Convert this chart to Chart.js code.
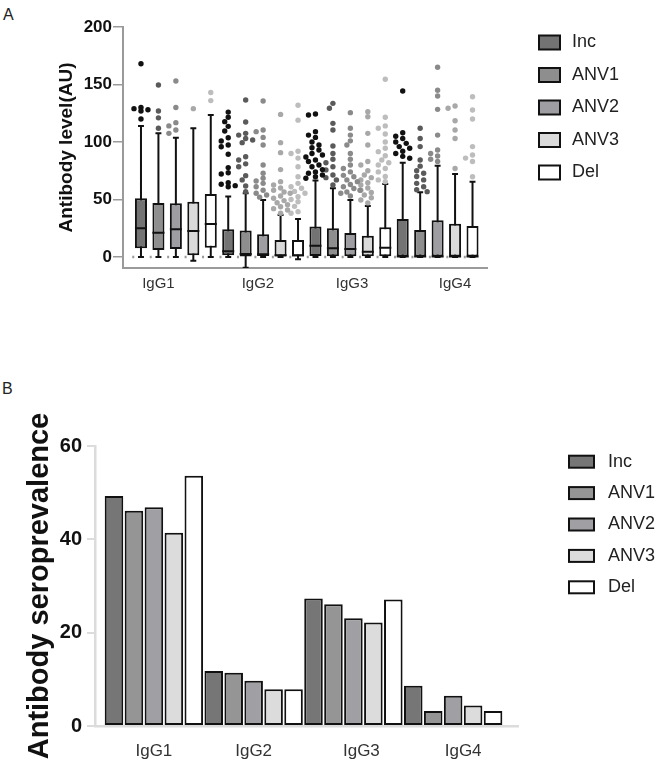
<!DOCTYPE html>
<html><head><meta charset="utf-8">
<script src="https://cdn.jsdelivr.net/npm/chart.js@4"></script>
<style>
html,body{margin:0;padding:0;background:#fff;}
#wrap{position:relative;width:657px;height:763px;overflow:hidden;}
.plabel{position:absolute;font-family:'Liberation Sans',Arial,sans-serif;font-size:16px;color:#222;line-height:16px;}
#ca{position:absolute;left:0;top:0;}
#cb{position:absolute;left:0;top:330px;}
</style></head><body>
<div id="wrap">
<div class="plabel" style="left:3px;top:7px">A</div>
<div class="plabel" style="left:2px;top:381px">B</div>
<canvas id="ca" width="657" height="330"></canvas>
<canvas id="cb" width="657" height="433"></canvas>
</div>
<script>
// ---------- data ----------
const SERIES = ['Inc', 'ANV1', 'ANV2', 'ANV3', 'Del'];
const GROUPS = ['IgG1', 'IgG2', 'IgG3', 'IgG4'];
const A_Y_TICKS = [0, 50, 100, 150, 200];
const B_Y_TICKS = [0, 20, 40, 60];

// Panel A box statistics (rows = series, columns = IgG1..IgG4)
const LOWER  = [[0, 0, 0, 0], [0, -9.3, 0, 0], [0, 0, 0, 0], [-3.2, 0, 0, 0], [0, -2, 0, 0]];
const Q1     = [[7.5, 1.5, 0.8, 0.5], [6, 0.3, 0.6, 0.5], [7, 0.8, 0.6, 0.5], [1.5, 0.4, 0.6, 0.5], [8, 0.4, 0.6, 0.5]];
const MEDIAN = [[25, 5, 9.8, 0.5], [21, 2.6, 7.5, 0.5], [24, 2.3, 7, 0.5], [22.6, 1.5, 4.6, 0.5], [28.7, 1.5, 8.1, 0.5]];
const Q3     = [[51, 24, 26.6, 33], [47, 23, 25, 23.5], [46.7, 19.7, 20.8, 32], [48, 14.8, 18.4, 28.8], [54.8, 14.8, 25.8, 27]];
const UPPER  = [[114, 52.5, 66.4, 82], [107.5, 55.4, 59.7, 56.3], [103.7, 49.6, 49.6, 79.4], [112, 36.5, 44.3, 72.2], [123.5, 33, 63.5, 65.5]];

// Panel A outliers per series (one list per IgG subclass)
const OUT_INC = [
  [168, 130, 129, 128, 127, 120],
  [126, 121.5, 117.7, 113.6, 109.6, 103.7, 100.9, 97.4, 95.9, 89.3, 77.7, 73.3, 72.2, 64.6, 63.2, 62, 61],
  [124.3, 123.5, 109, 106, 104, 100, 97.4, 95, 93, 90, 88.7, 87, 84.3, 83, 80, 78.5, 76, 74, 72.8, 71.3, 69.8, 68.5],
  [144.3, 108, 105, 103, 100, 98.8, 96, 94.5, 92, 90, 87.5, 85.8]
];
const OUT_ANV1 = [
  [149.5, 127, 121, 112],
  [136.5, 117.4, 107.5, 106, 103, 101.7, 99.4, 87.2, 84.3, 81, 78.5, 70.7, 67, 61.7, 56.8],
  [133.6, 129.3, 116.2, 110.4, 96.5, 90, 85, 82, 78.5, 75.7, 71.3, 69, 67, 62.6],
  [112, 103, 96, 84.3, 79, 75, 72.8, 70, 67, 64, 61, 58.5, 56.8]
];
const OUT_ANV2 = [
  [153, 130, 116.8, 114, 110.4, 107.5],
  [135.7, 110.4, 109, 104, 97.4, 80, 72.8, 68.4, 66, 64, 61, 58, 55.4, 53.9, 52],
  [125.5, 112, 106, 101, 97.4, 90, 85, 80, 77, 74, 71, 69.8, 67, 65.5, 63, 61, 59.5, 58, 56.5, 55.4, 53],
  [165, 145, 140, 128.4, 106, 93, 90, 87.8, 85, 83]
];
const OUT_ANV3 = [
  [129],
  [124, 99.4, 90.7, 76, 65.5, 62.6, 60, 58, 56.5, 55.4, 53, 51, 49, 47.2, 45.5, 43.7, 42, 40.9, 38],
  [126.4, 122, 107.5, 97.4, 83, 80, 75, 71.3, 69, 67, 64.5, 62.6, 60, 58, 56, 53.9, 51.5, 49.6, 47],
  [131.3, 129.3, 118.5, 110.4, 103, 77]
];
const OUT_DEL = [
  [143, 136],
  [132, 119, 92, 90, 86, 78.5, 69.8, 64, 61, 59.7, 57, 55.4, 52.4, 50, 48, 44, 39.4, 38],
  [154.5, 121.5, 114, 112, 107, 100, 94.5, 91.6, 88, 84.3, 82, 80, 77, 74, 70, 67, 65.5],
  [139.4, 127.8, 120, 96, 88.7, 86, 83, 69.8]
];
const OUTLIERS = [OUT_INC, OUT_ANV1, OUT_ANV2, OUT_ANV3, OUT_DEL];

// Panel B seroprevalence (%)
const PREV_INC  = [49.3, 11.8, 27.3, 8.6];
const PREV_ANV1 = [46.1, 11.4, 26.1, 3.2];
const PREV_ANV2 = [46.9, 9.7, 23.1, 6.5];
const PREV_ANV3 = [41.4, 7.9, 22.2, 4.4];
const PREV_DEL  = [53.6, 7.9, 27.1, 3.2];
const PREV = [PREV_INC, PREV_ANV1, PREV_ANV2, PREV_ANV3, PREV_DEL];

// ---------- styling ----------
const FONT = "'Liberation Sans', Arial, Helvetica, sans-serif";
const FILL_A = ['#737373', '#8e8e8e', '#9d9da2', '#dadada', '#ffffff'];
const FILL_B = ['#767676', '#959595', '#a0a0a4', '#dcdcdc', '#ffffff'];
const DOT = ['#111111', '#5a5a5a', '#8a8a8a', '#a8a8a8', '#bdbdbd'];
const INK = '#111111';
const N = SERIES.length;
const pos = (g, s) => g * N + s;

// ---------- custom side legend ----------
const sideLegend = {
  id: 'sideLegend',
  afterDraw(chart, args, o) {
    const ctx = chart.ctx;
    ctx.save();
    ctx.font = o.fontSize + 'px ' + FONT;
    ctx.textBaseline = 'middle';
    ctx.textAlign = 'left';
    SERIES.forEach((name, i) => {
      const cy = o.y + i * o.dy;
      ctx.fillStyle = o.fill[i];
      ctx.fillRect(o.x, cy - o.h / 2, o.w, o.h);
      ctx.lineWidth = 2;
      ctx.strokeStyle = INK;
      ctx.strokeRect(o.x, cy - o.h / 2, o.w, o.h);
      ctx.fillStyle = '#222';
      ctx.fillText(name, o.tx, cy);
    });
    ctx.restore();
  }
};

// ---------- Panel A ----------
const PX_PER_X_A = 17.45, PX_PER_Y_A = 1.15;
function swarm(values, x0) {
  const placed = [];
  const offs = [0, -0.2, 0.2, -0.4, 0.4, -0.55, 0.55];
  return values.slice().sort((a, b) => b - a).map(v => {
    let off = offs.find(o => placed.every(p =>
      Math.hypot((p.x - (x0 + o)) * PX_PER_X_A, (p.y - v) * PX_PER_Y_A) >= 5));
    if (off === undefined) off = 0;
    const pt = {x: x0 + off, y: v};
    placed.push(pt);
    return pt;
  });
}

const CAP = 0.17, MED = 0.345;
const whiskerData = [], capData = [], medData = [];
SERIES.forEach((n, s) => GROUPS.forEach((g, gi) => {
  const x = pos(gi, s);
  whiskerData.push({x, y: LOWER[s][gi]}, {x, y: UPPER[s][gi]}, {x, y: null});
  [LOWER[s][gi], UPPER[s][gi]].forEach(v => capData.push({x: x - CAP, y: v}, {x: x + CAP, y: v}, {x, y: null}));
  medData.push({x: x - MED, y: MEDIAN[s][gi]}, {x: x + MED, y: MEDIAN[s][gi]}, {x, y: null});
}));

const dsA = [];
dsA.push({
  type: 'line', label: 'zero', order: 6,
  data: [{x: pos(0, 0) - 0.5, y: 0}, {x: pos(GROUPS.length - 1, N - 1) + 0.5, y: 0}],
  borderColor: '#9a9a9a', borderWidth: 2.5, borderDash: [2, PX_PER_X_A - 2],
  pointRadius: 0, fill: false
});
dsA.push({
  type: 'line', label: 'whiskers', order: 5, data: whiskerData,
  borderColor: INK, borderWidth: 2, pointRadius: 0, fill: false, spanGaps: false
});
dsA.push({
  type: 'line', label: 'caps', order: 5, data: capData,
  borderColor: INK, borderWidth: 2, pointRadius: 0, fill: false, spanGaps: false
});
SERIES.forEach((name, s) => dsA.push({
  type: 'bar', label: name, order: 3,
  data: GROUPS.map((g, gi) => ({x: pos(gi, s), y: [Q1[s][gi], Q3[s][gi]]})),
  backgroundColor: FILL_A[s], borderColor: INK, borderWidth: 2, borderSkipped: false,
  grouped: false, barPercentage: 0.69, categoryPercentage: 1
}));
dsA.push({
  type: 'line', label: 'medians', order: 2, data: medData,
  borderColor: INK, borderWidth: 2, pointRadius: 0, fill: false, spanGaps: false
});
SERIES.forEach((name, s) => dsA.push({
  type: 'scatter', label: name + ' outliers', order: 1,
  data: GROUPS.flatMap((g, gi) => swarm(OUTLIERS[s][gi], pos(gi, s))),
  pointRadius: 2.7, pointBackgroundColor: DOT[s], pointBorderWidth: 0, showLine: false
}));

const A_LABEL_POS = [1, 6.7, 12.1, 18];

new Chart(document.getElementById('ca'), {
  type: 'bar',
  data: {datasets: dsA},
  plugins: [sideLegend],
  options: {
    responsive: false, animation: false, devicePixelRatio: 1, events: [],
    layout: {padding: {top: 27, right: 170, bottom: 0, left: 0}},
    plugins: {
      legend: {display: false}, tooltip: {enabled: false},
      sideLegend: {x: 539, w: 21, h: 14, tx: 572, y: 42.5, dy: 32.5, fontSize: 18, fill: FILL_A}
    },
    scales: {
      x: {
        type: 'linear', min: -1.03, max: 19.83, offset: false,
        grid: {display: false, drawTicks: false},
        border: {display: true, color: '#9a9a9a', width: 2},
        afterBuildTicks: sc => { sc.ticks = A_LABEL_POS.map(v => ({value: v})); },
        ticks: {callback: (v, i) => GROUPS[i], font: {family: FONT, size: 15}, color: '#333',
                padding: 7, maxRotation: 0, autoSkip: false},
        afterFit: sc => { sc.height = 62; }
      },
      y: {
        min: -9.6, max: 200,
        afterBuildTicks: sc => { sc.ticks = A_Y_TICKS.map(v => ({value: v})); },
        grid: {drawOnChartArea: false, drawTicks: true, tickLength: 10, color: '#9a9a9a', lineWidth: 1.5},
        border: {display: true, color: '#9a9a9a', width: 2},
        ticks: {font: {family: FONT, size: 17, weight: 'bold'}, color: INK, padding: 1},
        title: {display: true, text: 'Antibody level(AU)', color: INK,
                font: {family: FONT, size: 19, weight: 'bold'}, padding: {top: 55, bottom: 0}},
        afterFit: sc => { sc.width = 123; }
      }
    }
  }
});

// ---------- Panel B ----------
const B_LABEL_POS = [2, 7, 12.4, 17.5];
const dsB = SERIES.map((name, s) => ({
  label: name,
  data: GROUPS.map((g, gi) => ({x: pos(gi, s), y: PREV[s][gi]})),
  backgroundColor: FILL_B[s], borderColor: INK, borderWidth: 2, borderSkipped: false,
  grouped: false, barPercentage: 0.93, categoryPercentage: 1
}));

new Chart(document.getElementById('cb'), {
  type: 'bar',
  data: {datasets: dsB},
  plugins: [sideLegend],
  options: {
    responsive: false, animation: false, devicePixelRatio: 1, events: [],
    layout: {padding: {top: 116, right: 139, bottom: 0, left: 0}},
    plugins: {
      legend: {display: false}, tooltip: {enabled: false},
      sideLegend: {x: 569, w: 25, h: 12, tx: 608, y: 131.7, dy: 31.4, fontSize: 18, fill: FILL_B}
    },
    scales: {
      x: {
        type: 'linear', min: -0.952, max: 20.25, offset: false,
        grid: {display: false, drawTicks: false},
        border: {display: true, color: '#dcdcdc', width: 2.5},
        afterBuildTicks: sc => { sc.ticks = B_LABEL_POS.map(v => ({value: v})); },
        ticks: {callback: (v, i) => GROUPS[i], font: {family: FONT, size: 17}, color: '#333',
                padding: 15, maxRotation: 0, autoSkip: false},
        afterFit: sc => { sc.height = 37; }
      },
      y: {
        min: 0, max: 60,
        afterBuildTicks: sc => { sc.ticks = B_Y_TICKS.map(v => ({value: v})); },
        grid: {drawOnChartArea: false, drawTicks: true, tickLength: 8, color: '#dcdcdc', lineWidth: 2},
        border: {display: true, color: '#dcdcdc', width: 2.5},
        ticks: {font: {family: FONT, size: 20, weight: 'bold'}, color: INK, padding: 5},
        title: {display: true, text: 'Antibody seroprevalence', color: INK,
                font: {family: FONT, size: 29, weight: 'bold'}, padding: {top: 23, bottom: 0}},
        afterFit: sc => { sc.width = 95; }
      }
    }
  }
});
</script>
</body></html>
